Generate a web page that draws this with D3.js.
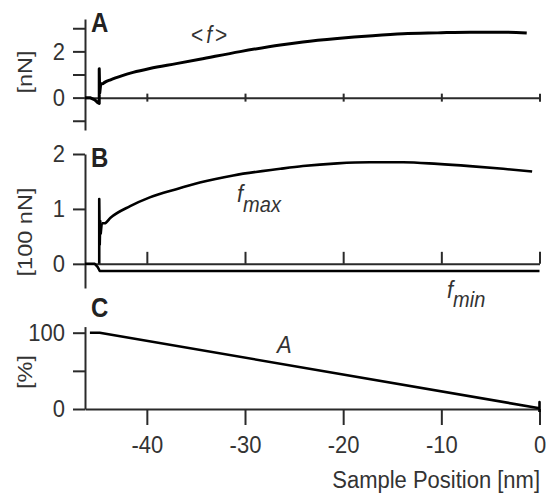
<html>
<head>
<script src="https://d3js.org/d3.v7.min.js"></script>
<style>
  body { margin: 0; background: #fff; }
  svg { font-family: "Liberation Sans", Arial, sans-serif; }
</style>
</head>
<body>
<svg width="549" height="497"></svg>
<script>
// values (x in nm)
var xTicks = [-40, -30, -20, -10, 0];
var xTickLabels = ["-40", "-30", "-20", "-10", "0"];

var ticksA = [3, 2, 1, 0, -1];
var labelsA = {2: "2", 0: "0"};
var ticksB = [2, 1, 0];
var labelsB = {2: "2", 1: "1", 0: "0"};
var ticksC = [100, 50, 0];
var labelsC = {100: "100", 0: "0"};

// panel A, mean force <f> [nN]  (first 7 points = jump-in spike)
var meanForce = [[-46.3,0],[-45.8,0],[-45.3,-0.1],[-45.0,-0.22],[-44.85,-0.25],[-44.85,1.25],[-44.8,0.2],
  [-44.7,0.6],[-44.5,0.6],[-44.3,0.66],[-43.7,0.77],[-42.5,0.95],[-41.4,1.09],[-39.7,1.26],[-37,1.47],
  [-34.6,1.66],[-30.5,1.99],[-26.4,2.28],[-24.1,2.41],[-20.6,2.56],[-17,2.68],[-13.9,2.76],[-10.4,2.8],
  [-7.1,2.83],[-3.7,2.83],[-1.3,2.79]];

// panel B, f_max and f_min [100 nN]  (first 5 points of f_max = spike)
var forceMax = [[-44.85,0],[-44.85,1.18],[-44.8,0.35],[-44.75,0.78],[-44.7,0.55],[-44.6,0.74],[-44.3,0.74],
  [-43.7,0.84],[-41.7,1.05],[-39.7,1.21],[-37,1.36],[-34.6,1.48],[-31.2,1.61],[-26.4,1.73],[-24.1,1.78],
  [-20.6,1.83],[-17.3,1.85],[-13.9,1.85],[-10.4,1.82],[-7.1,1.78],[-3.7,1.73],[-0.75,1.68]];
var forceMin = [[-46.3,0],[-45.3,0],[-45.0,-0.06],[-44.8,-0.13],[0,-0.13]];

// panel C, amplitude A [%]
var amplitude = [[-45.8,100],[-44.8,100],[0,1],[0,9],[0,-4]];

var svg = d3.select("svg");
var k = 1.12; // glyphs in the figure are a bit taller than wide

var x = d3.scaleLinear().domain([-46.3, 0]).range([85, 539.5]);
var yA = d3.scaleLinear().domain([-1.4, 3.4]).range([130, 19]);
var yB = d3.scaleLinear().domain([-0.44, 2]).range([288, 154]);
var yC = d3.scaleLinear().domain([0, 108]).range([409, 326.6]);

function stretch(sel) {
  sel.each(function() {
    var t = d3.select(this);
    var tx = +t.attr("x") || 0, ty = +t.attr("y") || 0;
    var rot = t.attr("data-rot");
    t.attr("x", 0).attr("y", 0)
      .attr("transform", "translate(" + tx + "," + ty + ") scale(1," + k + ")" + (rot ? " rotate(" + rot + ")" : ""));
  });
}

function styleAxis(g) {
  g.selectAll("path, line").attr("stroke", "#2a2a2a").attr("stroke-width", 2);
  g.selectAll("text").attr("fill", "#333").attr("font-size", 22).call(stretch);
}

function yAxis(scale, ticks, labels) {
  svg.append("g")
    .attr("transform", "translate(85,0)")
    .call(d3.axisLeft(scale).tickValues(ticks).tickSize(12).tickSizeOuter(0).tickPadding(8)
      .tickFormat(function(d) { return labels[d] || ""; }))
    .call(styleAxis);
}

yAxis(yA, ticksA, labelsA);
yAxis(yB, ticksB, labelsB);
yAxis(yC, ticksC, labelsC);

// A: zero line with small crossing ticks
var gxA = svg.append("g")
  .attr("transform", "translate(0," + yA(0) + ")")
  .call(d3.axisBottom(x).tickValues(xTicks).tickSize(4).tickSizeOuter(0).tickFormat(""))
  .call(styleAxis);
gxA.selectAll(".tick line").attr("y1", -4);

// B: zero line with ticks pointing up
svg.append("g")
  .attr("transform", "translate(0," + yB(0) + ")")
  .call(d3.axisTop(x).tickValues(xTicks).tickSize(12).tickSizeOuter(0).tickFormat(""))
  .call(styleAxis);

// C: labelled axis
svg.append("g")
  .attr("transform", "translate(0," + yC(0) + ")")
  .call(d3.axisBottom(x).tickValues(xTicks).tickSize(16).tickSizeOuter(0).tickPadding(10)
    .tickFormat(function(d, i) { return xTickLabels[i]; }))
  .call(styleAxis);

function curve(data, yScale, w, c) {
  svg.append("path")
    .datum(data)
    .attr("fill", "none")
    .attr("stroke", "#000")
    .attr("stroke-width", w)
    .attr("stroke-linejoin", "round")
    .attr("d", d3.line().curve(c || d3.curveLinear)
      .x(function(d) { return x(d[0]); }).y(function(d) { return yScale(d[1]); }));
}

// spikes straight, the rest smooth
curve(meanForce.slice(0, 8), yA, 3);
curve(meanForce.slice(7), yA, 3, d3.curveMonotoneX);
curve(forceMin, yB, 2.5);
curve(forceMax.slice(0, 6), yB, 2.6);
curve(forceMax.slice(5), yB, 2.6, d3.curveMonotoneX);
curve(amplitude, yC, 2.6);

// panel letters
[["A", 32], ["B", 167], ["C", 317]].forEach(function(p) {
  svg.append("text").attr("x", 91).attr("y", p[1])
    .attr("font-size", 24).attr("font-weight", "bold").attr("fill", "#222")
    .text(p[0]);
});

// unit labels
[["[nN]", 72], ["[100 nN]", 232], ["[%]", 372]].forEach(function(p) {
  svg.append("text").attr("x", 25).attr("y", p[1]).attr("data-rot", -90)
    .attr("text-anchor", "middle").attr("dominant-baseline", "central")
    .attr("font-size", 21).attr("fill", "#333")
    .text(p[0]);
});

svg.append("text").attr("x", 540).attr("y", 488)
  .attr("text-anchor", "end").attr("font-size", 22).attr("fill", "#333")
  .text("Sample Position [nm]");

// series labels
var tf = svg.append("text").attr("x", 191).attr("y", 43).attr("font-size", 21).attr("fill", "#333");
tf.append("tspan").text("<");
tf.append("tspan").attr("dx", 3).attr("font-style", "italic").text("f");
tf.append("tspan").attr("dx", 3).text(">");

var tmax = svg.append("text").attr("x", 237).attr("y", 202).attr("font-size", 22)
  .attr("font-style", "italic").attr("fill", "#333");
tmax.append("tspan").text("f");
tmax.append("tspan").attr("dy", 9).attr("font-size", 20).text("max");

var tmin = svg.append("text").attr("x", 447).attr("y", 298).attr("font-size", 22)
  .attr("font-style", "italic").attr("fill", "#333");
tmin.append("tspan").text("f");
tmin.append("tspan").attr("dy", 8).attr("font-size", 20).text("min");

svg.append("text").attr("x", 277).attr("y", 353).attr("font-size", 22)
  .attr("font-style", "italic").attr("fill", "#333").text("A");

svg.selectAll(":scope > text").call(stretch);
</script>
</body>
</html>
